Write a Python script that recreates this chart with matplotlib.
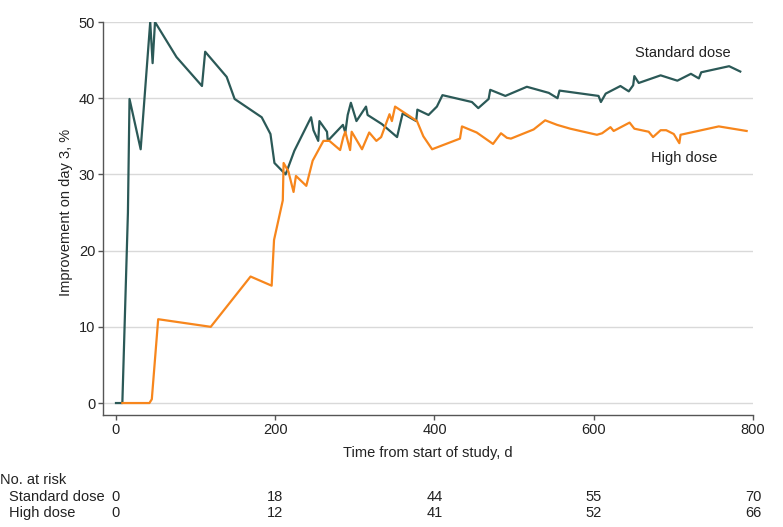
import numpy as np
import matplotlib
matplotlib.use('Agg')
import matplotlib.pyplot as plt
from matplotlib import font_manager

# pick a narrow sans if present
names = {f.name for f in font_manager.fontManager.ttflist}
fam = 'Liberation Sans Narrow' if 'Liberation Sans Narrow' in names else 'Liberation Sans'
plt.rcParams['font.family'] = [fam, 'DejaVu Sans']
plt.rcParams['font.size'] = 10.5

# Standard dose curve (days, % improvement)
std_day = [0, 8, 15, 17, 31, 43, 46, 49, 76, 108, 112, 139, 149, 183, 194, 199, 213, 224,
           245, 248, 254, 255.5, 265, 266, 285, 288, 291, 295, 302, 314, 316, 334, 353,
           360, 377, 378.5, 392.5, 403, 410, 447, 455, 468, 470, 489, 516, 543.5, 554.5,
           557, 606, 609, 615, 633.5, 644, 649.5, 651, 656.5, 684, 705, 722, 732, 735,
           770, 784]
std_val = [0, 0, 25, 39.9, 33.3, 50, 44.6, 50, 45.4, 41.6, 46.1, 42.8, 39.9, 37.5, 35.3,
           31.5, 30.0, 33.1, 37.5, 35.8, 34.4, 37.0, 35.6, 34.4, 36.5, 35.5, 37.8, 39.4,
           37.0, 38.9, 37.8, 36.6, 34.9, 38.0, 37.0, 38.5, 37.8, 38.9, 40.4, 39.5, 38.7,
           39.9, 41.1, 40.3, 41.5, 40.7, 40.0, 41.0, 40.3, 39.5, 40.6, 41.6, 40.9, 41.7,
           42.9, 42.0, 43.0, 42.3, 43.2, 42.6, 43.4, 44.2, 43.5]

# High dose curve
high_day = [8, 42, 45, 53, 119, 169, 195.5, 198.5, 209.5, 210.5, 216.5, 223, 226, 239,
            247, 260.5, 268, 281.5, 285.5, 288, 294, 296, 309, 318, 327, 333, 343.5,
            346.5, 350.5, 378, 386, 397, 432, 434.5, 453, 473.5, 483.5, 491, 496, 524.5,
            539, 554, 570.5, 604, 610.5, 621, 625, 645, 651, 669, 674.5, 684, 691, 700.5,
            707.5, 709, 757, 792]
high_val = [0, 0, 0.5, 11.0, 10.0, 16.6, 15.4, 21.4, 26.6, 31.5, 30.4, 27.7, 29.8, 28.5,
            31.8, 34.4, 34.4, 33.2, 34.9, 35.6, 33.2, 35.6, 33.3, 35.5, 34.4, 34.9, 37.9,
            37.0, 38.9, 37.0, 35.0, 33.3, 34.7, 36.3, 35.5, 34.0, 35.4, 34.8, 34.7, 35.9,
            37.1, 36.5, 36.0, 35.2, 35.4, 36.2, 35.7, 36.8, 36.0, 35.6, 34.9, 35.8, 35.8,
            35.3, 34.1, 35.2, 36.3, 35.7]

risk_days = [0, 200, 400, 600, 800]
risk_std = [0, 18, 44, 55, 70]
risk_high = [0, 12, 41, 52, 66]

fig = plt.figure(figsize=(7.83, 5.27), dpi=100)
ax = fig.add_axes([103/783, 1 - 415/527, 650/783, 393/527])

ax.plot(std_day, std_val, color='#2b5957', lw=1.6, zorder=3)
ax.plot(high_day, high_val, color='#f7861c', lw=1.6, zorder=3)

ax.set_xlim(-16.3, 800)
ax.set_ylim(-1.57, 50)
ax.set_xticks(risk_days)
ax.set_yticks(range(0, 51, 10))
ax.grid(axis='y', color='#d9d9d9', lw=1)
ax.set_axisbelow(True)
for s in ['top', 'right']:
    ax.spines[s].set_visible(False)
for s in ['left', 'bottom']:
    ax.spines[s].set_color('#555555')
    ax.spines[s].set_linewidth(1)
ax.tick_params(colors='#555555', labelcolor='#222222', length=3.6, width=1, pad=2,
               labelsize=10.5)

ax.set_xlabel('Time from start of study, d', fontsize=10.5, color='#222222')
ax.set_ylabel('Improvement on day 3, %', fontsize=10.5, color='#222222')
ax.xaxis.set_label_coords(0.5, -0.079)
ax.yaxis.set_label_coords(-0.046, 0.515)

ax.text(652, 45.9, 'Standard dose', fontsize=10.5, color='#222222', va='center')
ax.text(672, 32.2, 'High dose', fontsize=10.5, color='#222222', va='center')

# number at risk table
fig.text(0.0, 1 - 480/527, 'No. at risk', fontsize=10.5, va='center', color='#222222')
fig.text(9/783, 1 - 497/527, 'Standard dose', fontsize=10.5, va='center', color='#222222')
fig.text(9/783, 1 - 513/527, 'High dose', fontsize=10.5, va='center', color='#222222')
for d, a, b in zip(risk_days, risk_std, risk_high):
    xf = fig.transFigure.inverted().transform(ax.transData.transform((d, 0)))[0]
    fig.text(xf, 1 - 497/527, str(a), fontsize=10.5, ha='center', va='center', color='#222222')
    fig.text(xf, 1 - 513/527, str(b), fontsize=10.5, ha='center', va='center', color='#222222')

fig.savefig('out.png', dpi=100)
